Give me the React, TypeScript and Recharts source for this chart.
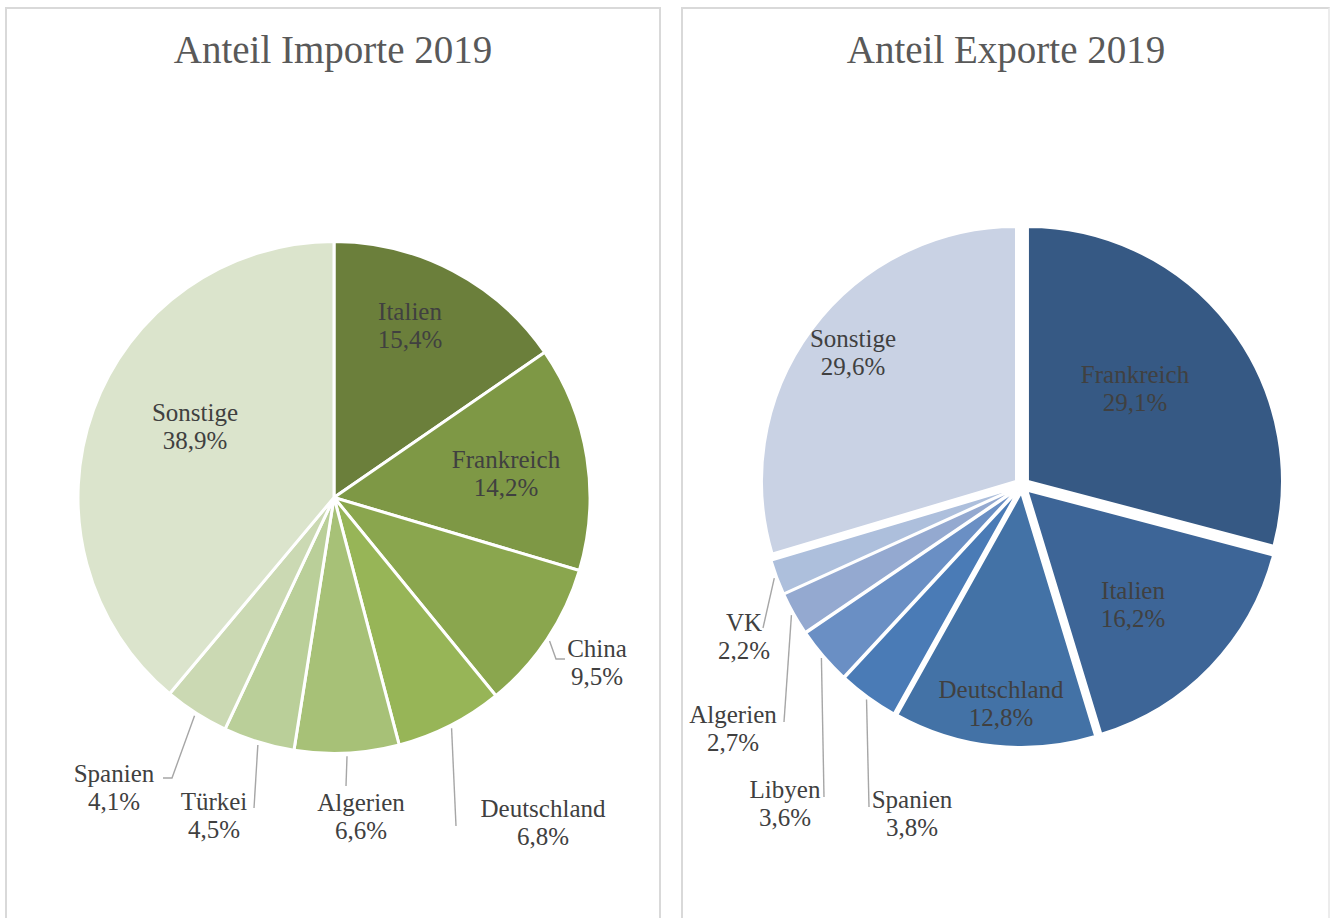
import React from 'react';
import { PieChart, Pie, Cell, Sector } from 'recharts';

// ---------- data ----------
const importNames = ['Italien', 'Frankreich', 'China', 'Deutschland', 'Algerien', 'Türkei', 'Spanien', 'Sonstige'];
const importShares = [15.4, 14.2, 9.5, 6.8, 6.6, 4.5, 4.1, 38.9];

const exportNames = ['Frankreich', 'Italien', 'Deutschland', 'Spanien', 'Libyen', 'Algerien', 'VK', 'Sonstige'];
const exportShares = [29.1, 16.2, 12.8, 3.8, 3.6, 2.7, 2.2, 29.6];

const titles = ['Anteil Importe 2019', 'Anteil Exporte 2019'];

// ---------- styles ----------
const importColors = ['#6b7f3b', '#7e9845', '#8aa64e', '#97b557', '#a7c177', '#bacf99', '#cbd9b3', '#dbe4cc'];
const exportColors = ['#365984', '#3d6597', '#4372a6', '#4a7bb6', '#6a8fc4', '#94a9d0', '#adbfdc', '#c9d2e4'];

const FONT = "'Liberation Serif', 'Times New Roman', serif";
const LABEL_SIZE = 25;
const LABEL_COLOR = '#404040';
const LEADER_COLOR = '#a6a6a6';

// label layout (offsets from pie centre), leader lines start at slice edge
type LabelPos = { at: [number, number]; line?: [number, number][] };
const importLabelLayout: Record<string, LabelPos> = {
  Italien: { at: [76, -172] },
  Frankreich: { at: [172, -24] },
  Sonstige: { at: [-139, -71.5] },
  China: { at: [263, 164.5], line: [[222, 161.5], [231, 161.5]] },
  Deutschland: { at: [209, 324.5], line: [[122, 328.5]] },
  Algerien: { at: [27, 318.5], line: [[12, 288.5]] },
  'Türkei': { at: [-120, 318], line: [[-80, 310.5]] },
  Spanien: { at: [-220, 289.5], line: [[-162, 280.5], [-171, 280.5]] },
};
const exportLabelLayout: Record<string, LabelPos> = {
  Frankreich: { at: [113, -97.5] },
  Italien: { at: [111, 118.5] },
  Deutschland: { at: [-21, 217.5] },
  Sonstige: { at: [-169, -133.5] },
  VK: { at: [-278, 150.5], line: [[-259, 142.5]] },
  Algerien: { at: [-289, 242.5], line: [[-238, 236.5]] },
  Libyen: { at: [-237, 317.5], line: [[-198, 311.5]] },
  Spanien: { at: [-110, 327.5], line: [[-153, 321.5]] },
};

const RADIAN = Math.PI / 180;

const importData = importNames.map((name, i) => ({ name, value: importShares[i] }));
const exportData = exportNames.map((name, i) => ({ name, value: exportShares[i] }));

const fmt = (v: number) => v.toFixed(1).replace('.', ',') + '%';

function makeLabel(layout: Record<string, LabelPos>, explode: number) {
  return (props: any) => {
    const { cx, cy, midAngle, outerRadius, value } = props;
    const name = props.name ?? props.payload?.name;
    const pos = layout[name];
    if (!pos) return null;
    const ex = explode * Math.cos(-midAngle * RADIAN);
    const ey = explode * Math.sin(-midAngle * RADIAN);
    const lx = cx + pos.at[0];
    const ly = cy + pos.at[1];
    let leader = null;
    if (pos.line) {
      const r = outerRadius + 3;
      const sx = cx + ex + r * Math.cos(-midAngle * RADIAN);
      const sy = cy + ey + r * Math.sin(-midAngle * RADIAN);
      const pts = [[sx, sy], ...pos.line.map(([px, py]) => [cx + px, cy + py])];
      leader = (
        <polyline
          points={pts.map((p) => p.join(',')).join(' ')}
          fill="none"
          stroke={LEADER_COLOR}
          strokeWidth={1.4}
        />
      );
    }
    return (
      <g>
        {leader}
        <text
          x={lx}
          y={ly - 14 + 8.5}
          textAnchor="middle"
          fill={LABEL_COLOR}
          fontFamily={FONT}
          fontSize={LABEL_SIZE}
        >
          <tspan x={lx}>{name}</tspan>
          <tspan x={lx} dy={28}>{fmt(value)}</tspan>
        </text>
      </g>
    );
  };
}

function makeExplodedShape(explode: number) {
  return (props: any) => {
    const dx = explode * Math.cos(-props.midAngle * RADIAN);
    const dy = explode * Math.sin(-props.midAngle * RADIAN);
    return <Sector {...props} cx={props.cx + dx} cy={props.cy + dy} />;
  };
}

const EXPLODE = 7.5;

export default function App() {
  const explodedShape = makeExplodedShape(EXPLODE);
  return (
    <div
      style={{
        position: 'absolute',
        left: 0,
        top: 0,
        width: 1330,
        height: 918,
        overflow: 'hidden',
        background: '#ffffff',
      }}
    >
      <div
        style={{
          position: 'absolute',
          left: 5,
          top: 7,
          width: 652,
          height: 940,
          border: '2px solid #d9d9d9',
        }}
      />
      <div
        style={{
          position: 'absolute',
          left: 681,
          top: 7,
          width: 645,
          height: 940,
          borderTop: '2px solid #d9d9d9',
          borderLeft: '2px solid #d9d9d9',
          borderRight: '2px solid #ececec',
        }}
      />
      {[333, 1006].map((x, i) => (
        <div
          key={i}
          style={{
            position: 'absolute',
            left: x - 300,
            top: 27,
            width: 600,
            textAlign: 'center',
            fontFamily: FONT,
            fontSize: 39,
            lineHeight: '46px',
            color: '#595959',
            whiteSpace: 'nowrap',
          }}
        >
          {titles[i]}
        </div>
      ))}
      <div style={{ position: 'absolute', left: 0, top: 0 }}>
        <PieChart width={1330} height={918} margin={{ top: 0, right: 0, bottom: 0, left: 0 }}>
          <Pie
            data={importData}
            dataKey="value"
            nameKey="name"
            cx={334}
            cy={497.5}
            outerRadius={256}
            startAngle={90}
            endAngle={-270}
            stroke="#ffffff"
            strokeWidth={3}
            isAnimationActive={false}
            labelLine={false}
            label={makeLabel(importLabelLayout, 0)}
          >
            {importData.map((d, i) => (
              <Cell key={d.name} fill={importColors[i]} />
            ))}
          </Pie>
          <Pie
            data={exportData}
            dataKey="value"
            nameKey="name"
            cx={1022}
            cy={485.5}
            outerRadius={254}
            startAngle={90}
            endAngle={-270}
            stroke="#ffffff"
            strokeWidth={2}
            isAnimationActive={false}
            labelLine={false}
            label={makeLabel(exportLabelLayout, EXPLODE)}
            shape={explodedShape}
            inactiveShape={explodedShape}
            activeShape={explodedShape}
          >
            {exportData.map((d, i) => (
              <Cell key={d.name} fill={exportColors[i]} />
            ))}
          </Pie>
        </PieChart>
      </div>
    </div>
  );
}
